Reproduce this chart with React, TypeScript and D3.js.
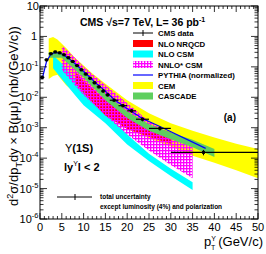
import React, { useEffect, useRef } from 'react';
import * as d3 from 'd3';

// CMS data, Upsilon(1S), |y| < 2
const binLo = [0, 1, 2, 3, 4, 5, 6, 7, 8, 9, 10, 11, 12, 13, 14, 15, 16, 18, 20, 22, 25, 30];
const binHi = [1, 2, 3, 4, 5, 6, 7, 8, 9, 10, 11, 12, 13, 14, 15, 16, 18, 20, 22, 25, 30, 50];
const dataPt = [0.5, 1.5, 2.5, 3.5, 4.5, 5.5, 6.5, 7.5, 8.5, 9.5, 10.5, 11.5, 12.5, 13.5, 14.5, 15.5, 17, 19, 21, 23.5, 27.5, 37.5];
const dataVal = [0.045, 0.17, 0.27, 0.31, 0.29, 0.25, 0.2, 0.15, 0.11, 0.08, 0.058, 0.042, 0.03, 0.022, 0.016, 0.012, 0.008, 0.0053, 0.0036, 0.0019, 0.00095, 0.000155];
const dataErr = [0.12, 0.1, 0.1, 0.1, 0.1, 0.1, 0.1, 0.1, 0.1, 0.1, 0.1, 0.1, 0.11, 0.11, 0.12, 0.12, 0.12, 0.13, 0.14, 0.15, 0.16, 0.2];

// PYTHIA (normalized)
const pythiaPt = [0.5, 1.5, 2.5, 3.5, 5, 7, 9, 11, 13, 15, 17, 19, 21, 23.5, 27.5, 38];
const pythiaVal = [0.04, 0.15, 0.26, 0.3, 0.27, 0.17, 0.095, 0.052, 0.028, 0.016, 0.0085, 0.0053, 0.0034, 0.002, 0.0011, 0.00021];

// CEM band
const cemPt = [2, 3, 4, 6, 8, 10, 12, 15, 20, 25, 30, 35, 40, 45, 50];
const cemHi = [0.85, 0.95, 0.8, 0.42, 0.2, 0.11, 0.06, 0.028, 0.008, 0.003, 0.0014, 0.0008, 0.00048, 0.0003, 0.0002];
const cemLo = [0.04, 0.05, 0.055, 0.025, 0.014, 0.009, 0.005, 0.0026, 0.0009, 0.00045, 0.00024, 0.00012, 0.00007, 0.00004, 0.000022];

// NLO CSM band
const csmPt = [3, 5, 8, 10, 15, 20, 25, 30, 35];
const csmHi = [0.24, 0.13, 0.04, 0.016, 0.003, 0.0006, 0.00014, 0.000045, 0.000016];
const csmLo = [0.09, 0.04, 0.012, 0.0055, 0.0014, 0.00028, 0.00008, 0.000026, 0.000009];

// NLO NRQCD band
const nrqcdPt = [8, 10, 15, 20, 25, 30];
const nrqcdHi = [0.07, 0.035, 0.008, 0.0026, 0.0012, 0.0007];
const nrqcdLo = [0.03, 0.014, 0.0025, 0.0009, 0.0005, 0.0003];

// NNLO* CSM band
const nnloPt = [5, 8, 10, 15, 20, 25, 30, 35];
const nnloHi = [0.5, 0.2, 0.1, 0.025, 0.0065, 0.0016, 0.0006, 0.00027];
const nnloLo = [0.08, 0.025, 0.012, 0.0025, 0.0006, 0.00018, 0.00006, 0.000022];

// CASCADE band
const cascadePt = [2, 5, 10, 15, 20, 25, 30, 35, 40];
const cascadeHi = [0.3, 0.28, 0.07, 0.013, 0.0035, 0.0013, 0.0007, 0.0004, 0.0002];
const cascadeLo = [0.2, 0.2, 0.045, 0.008, 0.0021, 0.0008, 0.00042, 0.00023, 0.00011];

const xTicks = [0, 5, 10, 15, 20, 25, 30, 35, 40, 45, 50];
const yExps = [-6, -5, -4, -3, -2, -1, 0, 1];
const legendLabels = ['CMS data', 'NLO NRQCD', 'NLO CSM', 'NNLO* CSM', 'PYTHIA (normalized)', 'CEM', 'CASCADE'];

const W = 266;
const H = 254;
const font = '"Liberation Sans", Arial, sans-serif';

const App: React.FC = () => {
  const ref = useRef<SVGSVGElement>(null);

  useEffect(() => {
    document.body.style.margin = '0';
    const svg = d3.select(ref.current);
    svg.selectAll('*').remove();

    const x = d3.scaleLinear().domain([0, 50]).range([40, 258]);
    const y = d3.scaleLog().domain([1e-6, 10]).range([219, 6]);

    // hatch pattern for NNLO*
    const defs = svg.append('defs');
    const pat = defs.append('pattern').attr('id', 'hatch').attr('patternUnits', 'userSpaceOnUse')
      .attr('width', 3).attr('height', 3);
    pat.append('rect').attr('width', 3).attr('height', 1.3).attr('fill', '#ff00ff');
    pat.append('rect').attr('width', 1.3).attr('height', 3).attr('fill', '#ff00ff');

    const band = (pt: number[], lo: number[], hi: number[], fill: string) => {
      const area = d3.area<number>()
        .x((d) => x(pt[d]))
        .y0((d) => y(lo[d]))
        .y1((d) => y(hi[d]));
      svg.append('path').attr('d', area(d3.range(pt.length))).attr('fill', fill);
    };

    band(cemPt, cemLo, cemHi, '#ffff00');
    band(csmPt, csmLo, csmHi, '#00ffff');
    band(nrqcdPt, nrqcdLo, nrqcdHi, '#ff0000');
    band(nnloPt, nnloLo, nnloHi, 'url(#hatch)');
    band(cascadePt, cascadeLo, cascadeHi, '#5fcf5f');

    const line = d3.line<number>().x((d) => x(pythiaPt[d])).y((d) => y(pythiaVal[d]));
    svg.append('path').attr('d', line(d3.range(pythiaPt.length))).attr('fill', 'none')
      .attr('stroke', '#0000ff').attr('stroke-width', 1.2);

    // data points
    const g = svg.append('g');
    dataPt.forEach((p, i) => {
      const v = dataVal[i];
      g.append('line').attr('x1', x(binLo[i])).attr('x2', x(binHi[i]))
        .attr('y1', y(v)).attr('y2', y(v)).attr('stroke', '#000').attr('stroke-width', 1.2);
      g.append('line').attr('x1', x(p)).attr('x2', x(p))
        .attr('y1', y(v * (1 - dataErr[i]))).attr('y2', y(v * (1 + dataErr[i])))
        .attr('stroke', '#000').attr('stroke-width', 1);
      g.append('rect').attr('x', x(p) - 1.5).attr('y', y(v) - 1.5).attr('width', 3).attr('height', 3)
        .attr('fill', '#000');
    });

    // frame
    svg.append('rect').attr('x', 40).attr('y', 6).attr('width', 218).attr('height', 213)
      .attr('fill', 'none').attr('stroke', '#000').attr('stroke-width', 1);

    const ticks = svg.append('g').attr('stroke', '#000').attr('stroke-width', 0.8);
    // x ticks (bottom and top, inward)
    d3.range(0, 51, 1).forEach((v) => {
      const len = v % 5 === 0 ? 6 : 3;
      ticks.append('line').attr('x1', x(v)).attr('x2', x(v)).attr('y1', 219).attr('y2', 219 - len);
      ticks.append('line').attr('x1', x(v)).attr('x2', x(v)).attr('y1', 6).attr('y2', 6 + len);
    });
    // y ticks (left and right, inward)
    yExps.forEach((e) => {
      for (let m = 1; m <= 9; m++) {
        const v = m * Math.pow(10, e);
        if (v > 10) break;
        const len = m === 1 ? 7 : 3.5;
        ticks.append('line').attr('x1', 40).attr('x2', 40 + len).attr('y1', y(v)).attr('y2', y(v));
        ticks.append('line').attr('x1', 258).attr('x2', 258 - len).attr('y1', y(v)).attr('y2', y(v));
      }
    });

    // tick labels
    xTicks.forEach((v) => {
      svg.append('text').attr('x', x(v)).attr('y', 231).attr('text-anchor', 'middle')
        .attr('font-family', font).attr('font-size', 11).text(String(v));
    });
    yExps.forEach((e) => {
      const t = svg.append('text').attr('y', y(Math.pow(10, e)) + 4).attr('font-family', font)
        .attr('font-size', 11).attr('text-anchor', 'end');
      if (e === 1) t.attr('x', 39).text('10');
      else if (e === 0) t.attr('x', 37).text('1');
      else {
        t.attr('x', 38.5);
        t.append('tspan').text('10');
        t.append('tspan').attr('dy', -5).attr('font-size', 7.5).text(String(e));
      }
    });

    // axis titles
    const yt = svg.append('text').attr('transform', 'translate(18,116) rotate(-90)')
      .attr('text-anchor', 'middle').attr('font-family', font).attr('font-size', 13);
    yt.append('tspan').text('d');
    yt.append('tspan').attr('dy', -5).attr('font-size', 9).text('2');
    yt.append('tspan').attr('dy', 5).text('σ/dp');
    yt.append('tspan').attr('dy', 4).attr('font-size', 9).text('T');
    yt.append('tspan').attr('dy', -4).text('dy × B(μμ)  (nb/(GeV/c))');

    const xt = svg.append('text').attr('x', 263).attr('y', 246).attr('text-anchor', 'end')
      .attr('font-family', font).attr('font-size', 13);
    xt.append('tspan').text('p');
    xt.append('tspan').attr('dy', -5).attr('font-size', 7).text('Υ');
    xt.append('tspan').attr('dx', -5).attr('dy', 9).attr('font-size', 7).text('T');
    xt.append('tspan').attr('dx', 3).attr('dy', -4).text('(GeV/c)');

    // title
    const title = svg.append('text').attr('x', 80).attr('y', 26).attr('font-family', font)
      .attr('font-size', 10.5).attr('font-weight', 'bold');
    title.append('tspan').text('CMS  √s=7 TeV, L= 36 pb');
    title.append('tspan').attr('dy', -4).attr('font-size', 7).text('-1');

    // legend
    const rowY = [33, 43.5, 54, 64.5, 75, 85.5, 96];
    const fills = ['', '#ff0000', '#00ffff', 'url(#hatch)', '', '#ffff00', '#5fcf5f'];
    const lg = svg.append('g');
    legendLabels.forEach((lab, i) => {
      const cy = rowY[i];
      if (i === 0) {
        lg.append('line').attr('x1', 133).attr('x2', 153).attr('y1', cy).attr('y2', cy).attr('stroke', '#000');
        lg.append('line').attr('x1', 143).attr('x2', 143).attr('y1', cy - 3).attr('y2', cy + 3).attr('stroke', '#000');
      } else if (i === 4) {
        lg.append('line').attr('x1', 133).attr('x2', 153).attr('y1', cy).attr('y2', cy)
          .attr('stroke', '#0000ff').attr('stroke-width', 1.2);
      } else {
        lg.append('rect').attr('x', 133).attr('y', cy - 3.5).attr('width', 20).attr('height', 7)
          .attr('fill', fills[i]);
      }
      lg.append('text').attr('x', 158).attr('y', cy + 3).attr('font-family', font)
        .attr('font-size', 7.8).attr('font-weight', 'bold').text(lab);
    });

    svg.append('text').attr('x', 236).attr('y', 121).attr('text-anchor', 'end').attr('font-family', font)
      .attr('font-size', 10).attr('font-weight', 'bold').text('(a)');

    const u = svg.append('text').attr('x', 65).attr('y', 152).attr('font-family', font)
      .attr('font-size', 11).attr('font-weight', 'bold');
    u.append('tspan').attr('font-weight', 'normal').text('Υ');
    u.append('tspan').text('(1S)');
    const r = svg.append('text').attr('x', 64).attr('y', 171).attr('font-family', font)
      .attr('font-size', 11).attr('font-weight', 'bold');
    r.append('tspan').text('ly');
    r.append('tspan').attr('dy', -5).attr('font-size', 7).attr('font-weight', 'normal').text('Υ');
    r.append('tspan').attr('dy', 5).text('l < 2');

    // uncertainty note
    svg.append('line').attr('x1', 57).attr('x2', 92).attr('y1', 197).attr('y2', 197).attr('stroke', '#000');
    svg.append('line').attr('x1', 75).attr('x2', 75).attr('y1', 194).attr('y2', 200).attr('stroke', '#000');
    svg.append('text').attr('x', 100).attr('y', 199).attr('font-family', font).attr('font-size', 6.5)
      .attr('font-weight', 'bold').text('total uncertainty');
    svg.append('text').attr('x', 100).attr('y', 209).attr('font-family', font).attr('font-size', 6.5)
      .attr('font-weight', 'bold').text('except luminosity (4%) and polarization');
  }, []);

  return <svg ref={ref} width={W} height={H} style={{ display: 'block', background: '#fff' }} />;
};

export default App;
